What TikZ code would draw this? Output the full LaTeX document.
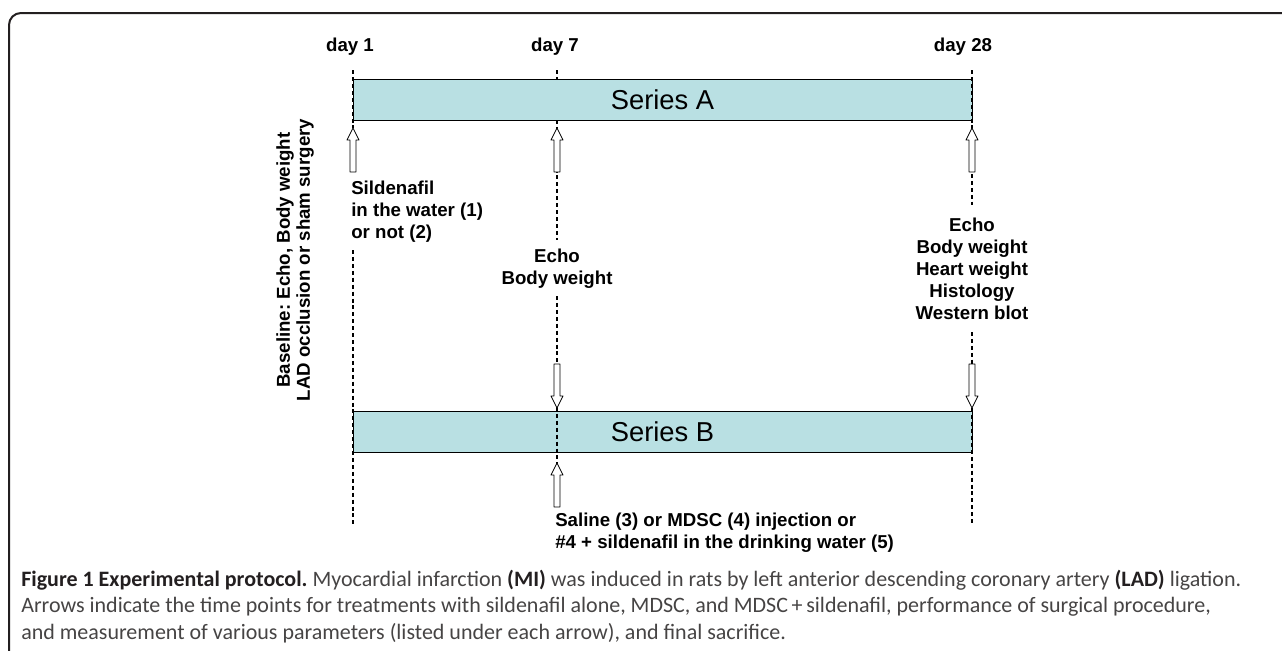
\documentclass[tikz,border=0pt]{standalone}
\usepackage{fontspec}
\setmainfont{Liberation Sans}
\newfontfamily\capfont{Carlito}
\usetikzlibrary{positioning}
\definecolor{serfill}{RGB}{185,224,227}
\definecolor{framegray}{RGB}{35,31,32}
\definecolor{capgray}{RGB}{70,68,68}
\tikzset{
  seriesbox/.style={draw, line width=0.75pt, fill=serfill, minimum width=464.25pt, minimum height=30.75pt, inner sep=0pt, font=\fontsize{20.5}{24}\selectfont},
  lbl/.style={font=\fontsize{14}{16.5}\selectfont\bfseries, inner sep=0pt},
  guide/.style={dash pattern=on 3pt off 2.2pt, line width=0.9pt},
  arrbox/.style={draw, fill=white, line width=0.6pt},
  blockup/.pic={\draw[arrbox] (-3,0) -- (-3,-32) -- (-6,-32) -- (0,-44) -- (6,-32) -- (3,-32) -- (3,0) -- cycle;},
  captxt/.style={font=\capfont\fontsize{16.5}{19.8}\selectfont, text=capgray, anchor=west, inner sep=0pt}
}
\newcommand\capbf[1]{\textcolor{framegray}{\textbf{#1}}}
\frenchspacing
\begin{document}
\begin{tikzpicture}[x=0.75pt, y=-0.75pt, line join=round]
	\def\xa{353} \def\xb{557} \def\xc{972} % day 1, day 7, day 28
	\useasboundingbox (0,0) rectangle (1282,650);
	\draw[framegray, line width=1.5pt, rounded corners=9] (9,652) -- (9,13) -- (1284,13);
	% time points
	\node[lbl] (d1) at (350,47) {day 1};
	\node[lbl] (d7) at (555,47) {day 7};
	\node[lbl] (d28) at (963,47) {day 28};
	% the two series
	\node[seriesbox] (serA) at (662.5,99.5) {Series A};
	\node[seriesbox] (serB) at (662.5,432) {Series B};
	% dashed time lines
	\draw[guide] (\xa,70) -- (\xa,128) (\xa,250) -- (\xa,525);
	\draw[guide] (\xb,70) -- (\xb,79) (\xb,120) -- (\xb,240) (\xb,296) -- (\xb,470);
	\draw[guide] (\xc,70) -- (\xc,205) (\xc,332) -- (\xc,525);
	% arrows
	\pic at (\xa,172) {blockup};
	\pic at (\xb,172) {blockup};
	\pic at (\xc,172) {blockup};
	\pic[rotate=180] at (\xb,364) {blockup};
	\pic[rotate=180] at (\xc,364) {blockup};
	\pic at (\xb,507) {blockup};
	% measurements and treatments
	\node[lbl, align=left, anchor=west] (sild) at (351,212) {Sildenafil\\in the water (1)\\or not (2)};
	\node[lbl, align=center] (echo7) at (\xb,269) {Echo\\Body weight};
	\node[lbl, align=center] (echo28) at (\xc,269) {Echo\\Body weight\\Heart weight\\Histology\\Western blot};
	\node[lbl, align=left, anchor=west] (salin) at (555,533) {Saline (3) or MDSC (4) injection or\\\#4 + sildenafil in the drinking water (5)};
	\node[lbl, font=\fontsize{14}{15}\selectfont\bfseries, align=center, rotate=90] (base) at (295,260) {Baseline: Echo, Body weight\\LAD occlusion or sham surgery};
	% caption
	\node[captxt] (cap1) at (21,580) {\capbf{Figure 1 Experimental protocol.} Myocardial infarction \capbf{(MI)} was induced in rats by left anterior descending coronary artery \capbf{(LAD)} ligation.};
	\node[captxt] (cap2) at (21,607) {Arrows indicate the time points for treatments with sildenafil alone, MDSC, and MDSC\,+\,sildenafil, performance of surgical procedure,};
	\node[captxt] (cap3) at (21,633) {and measurement of various parameters (listed under each arrow), and final sacrifice.};
\end{tikzpicture}
\end{document}
